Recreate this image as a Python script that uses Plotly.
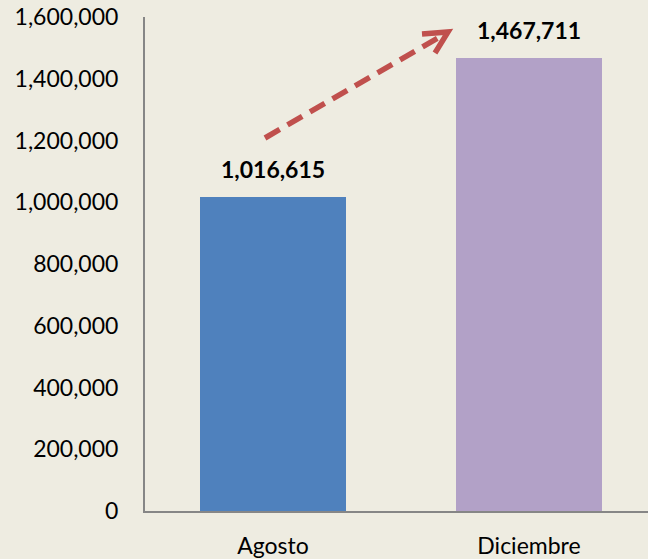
import plotly.graph_objects as go

categories = ["Agosto", "Diciembre"]
values = [1016615, 1467711]
colors = ["#4F81BD", "#B2A1C7"]
tick_vals = [0, 200000, 400000, 600000, 800000, 1000000, 1200000, 1400000, 1600000]
tick_text = ["0", "200,000", "400,000", "600,000", "800,000", "1,000,000", "1,200,000", "1,400,000", "1,600,000"]

W, H = 648, 559
L, R, T, B = 145, 0, 17, 48
pw, ph = W - L - R, H - T - B

def px(x):
    return (x - L) / pw

def py(y):
    return (H - B - y) / ph

bg = "#EEECE1"
font = "Lato, 'Open Sans', sans-serif"

fig = go.Figure()
fig.add_trace(go.Bar(
    x=categories, y=values, marker=dict(color=colors, line=dict(width=0)),
    width=0.574, hoverinfo="skip",
))

for c, v in zip(categories, values):
    fig.add_annotation(x=c, y=v, text=f"<b>{v:,}</b>", showarrow=False,
                       yshift=28, font=dict(size=23, color="#000000", family=font))

# dashed arrow
arrow_color = "#C0504D"
fig.add_shape(type="line", xref="paper", yref="paper",
              x0=px(265), y0=py(138), x1=px(443), y1=py(35),
              line=dict(color=arrow_color, width=5.5, dash="17px,9px"))
fig.add_shape(type="path", xref="paper", yref="paper",
              path=f"M {px(422)},{py(34)} L {px(448)},{py(32)} L {px(435)},{py(53)}",
              line=dict(color=arrow_color, width=5.5))

fig.update_layout(
    width=W, height=H,
    margin=dict(l=L, r=R, t=T, b=B, pad=0),
    paper_bgcolor=bg, plot_bgcolor=bg,
    showlegend=False,
    font=dict(family=font, size=23, color="#000000"),
    xaxis=dict(range=[-0.5, -0.5 + pw / 256], showgrid=False, showline=True,
               linecolor="#868686", linewidth=2, ticks="", fixedrange=True,
               ticklabelstandoff=13, tickfont=dict(size=23)),
    yaxis=dict(range=[0, 1600000], tickvals=tick_vals, ticktext=tick_text,
               showgrid=False, zeroline=False, showline=True, linecolor="#868686",
               linewidth=2, ticks="", ticklabelstandoff=20, tickfont=dict(size=23),
               fixedrange=True),
    bargap=0,
)

fig.write_html("out.html", config={"displayModeBar": False},
               post_script="document.body.style.margin='0';document.body.style.background='#EEECE1';")
